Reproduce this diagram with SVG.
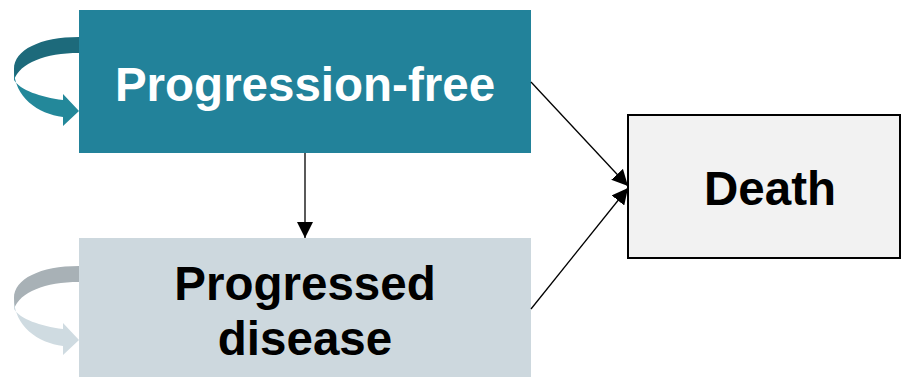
<svg xmlns="http://www.w3.org/2000/svg" width="902" height="377" viewBox="0 0 902 377">
<defs>
<style>
.lbl{font-family:"Liberation Sans",Arial,sans-serif;font-weight:bold;font-size:47.5px;text-anchor:middle}
.con{stroke:#000;stroke-width:1.3;fill:none}
</style>
<marker id="ah" markerWidth="16" markerHeight="16" refX="16" refY="8" orient="auto" markerUnits="userSpaceOnUse">
<path d="M0,0 L16,8 L0,16 Z" fill="#000"/>
</marker>
<path id="loopBack" d="M79,37 C40,37 14,50 14,69 L14,80 C20,63 45,53 79,53 Z"/>
<path id="loopFront" d="M14,69 C14,97 38,114 63,117 L63,126 L79,111 L63,94 L63,100 C40,97 20,90 14,80 Z"/>
</defs>
<g id="pf">
<rect x="79" y="10" width="452" height="143" fill="#22829A"/>
<text class="lbl" x="305" y="101" fill="#fff">Progression-free</text>
</g>
<g id="pd">
<rect x="79" y="238" width="452" height="139" fill="#CDD8DE"/>
<text class="lbl" x="305" y="300" fill="#000">Progressed</text>
<text class="lbl" x="305" y="355" fill="#000">disease</text>
</g>
<g id="death">
<rect x="628" y="115" width="272" height="143" fill="#F2F2F2" stroke="#000" stroke-width="2"/>
<text class="lbl" x="770" y="205" fill="#000">Death</text>
</g>
<g id="loops">
<use href="#loopBack" fill="#1D6A7B"/>
<use href="#loopFront" fill="#23889A"/>
<use href="#loopBack" fill="#A8B1B6" transform="translate(0,229)"/>
<use href="#loopFront" fill="#CFDBE1" transform="translate(0,229)"/>
</g>
<g id="connectors">
<line class="con" x1="305" y1="153" x2="305" y2="238" marker-end="url(#ah)"/>
<line class="con" x1="531" y1="82" x2="628" y2="186" marker-end="url(#ah)"/>
<line class="con" x1="531" y1="309" x2="628" y2="188" marker-end="url(#ah)"/>
</g>
</svg>
